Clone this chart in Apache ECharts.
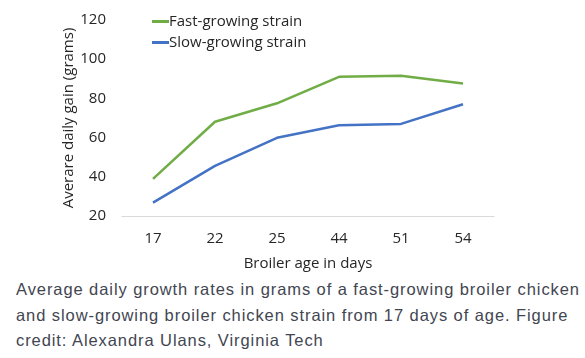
<!DOCTYPE html>
<html>
<head>
<meta charset="utf-8">
<script src="https://cdn.jsdelivr.net/npm/echarts@6/dist/echarts.min.js"></script>
<style>
html,body{margin:0;padding:0;background:#fff;}
#chart{position:absolute;left:0;top:0;width:585px;height:275px;}
#caption{position:absolute;left:16px;top:277px;width:580px;font-family:"Liberation Sans",Arial,sans-serif;font-size:16.5px;line-height:25.5px;letter-spacing:0.92px;color:#424651;white-space:nowrap;}
</style>
</head>
<body>
<div id="chart"></div>
<div id="caption">Average daily growth rates in grams of a fast-growing broiler chicken<br>and slow-growing broiler chicken strain from 17 days of age. Figure<br>credit: Alexandra Ulans, Virginia Tech</div>
<script>
const categories = ["17", "22", "25", "44", "51", "54"];
const fastGrowing = [38.9, 68.1, 77.5, 91.0, 91.6, 87.6];
const slowGrowing = [26.8, 45.6, 59.9, 66.3, 67.0, 77.0];
const seriesNames = ["Fast-growing strain", "Slow-growing strain"];
const yAxisName = "Averare daily gain (grams)";
const xAxisName = "Broiler age in days";

const font = '"Open Sans", sans-serif';
const chart = echarts.init(document.getElementById('chart'));
chart.setOption({
  animation: false,
  grid: {left: 122, right: 91, top: 20, bottom: 59, outerBoundsMode: 'none', containLabel: false},
  legend: {
    left: 147, top: 9, orient: 'vertical', itemGap: 6,
    itemWidth: 17, itemHeight: 3, icon: 'rect',
    textStyle: {fontFamily: font, fontSize: 15, color: '#262626', padding: [0,0,0,-5]},
    data: seriesNames
  },
  xAxis: {
    type: 'category', data: categories, boundaryGap: true,
    axisLine: {lineStyle: {color: '#d9d9d9', width: 1}},
    axisTick: {show: false},
    axisLabel: {fontFamily: font, fontSize: 15, color: '#262626', margin: 15},
    name: xAxisName, nameLocation: 'middle', nameGap: 40, nameMoveOverlap: false,
    nameTextStyle: {fontFamily: font, fontSize: 15, color: '#262626'}
  },
  yAxis: {
    type: 'value', min: 20, max: 120, interval: 20,
    axisLine: {show: false}, axisTick: {show: false}, splitLine: {show: false},
    axisLabel: {fontFamily: font, fontSize: 15, color: '#262626', margin: 16},
    name: yAxisName, nameLocation: 'middle', nameGap: 46, nameMoveOverlap: false,
    nameTextStyle: {fontFamily: font, fontSize: 15, color: '#262626'}
  },
  series: [
    {name: seriesNames[0], type: 'line', data: fastGrowing, symbol: 'none', lineStyle: {color: '#70ad47', width: 2.5}, itemStyle: {color: '#70ad47'}},
    {name: seriesNames[1], type: 'line', data: slowGrowing, symbol: 'none', lineStyle: {color: '#4472c4', width: 2.5}, itemStyle: {color: '#4472c4'}}
  ]
});
</script>
</body>
</html>
